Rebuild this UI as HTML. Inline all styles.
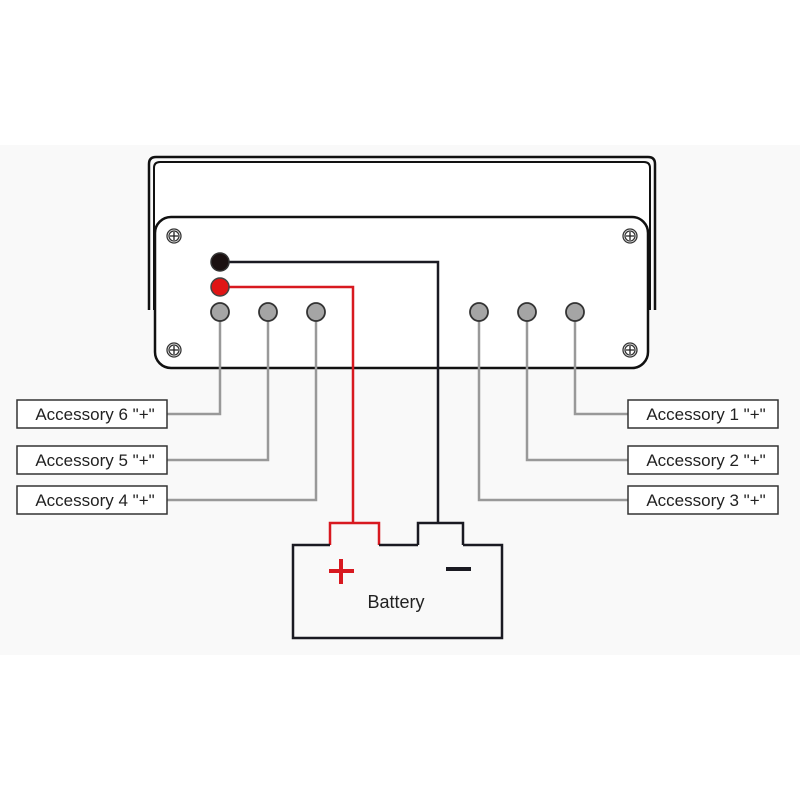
<!DOCTYPE html>
<html><head><style>
body{margin:0;background:#fff;}
svg{display:block;}
text{font-family:"Liberation Sans",Arial,sans-serif;}
</style></head><body>
<svg width="800" height="800" viewBox="0 0 800 800">
<rect x="0" y="145" width="800" height="510" fill="#f9f9f9"/>
<path d="M149,310 V164 Q149,157 156,157 H648 Q655,157 655,164 V310" fill="none" stroke="#111" stroke-width="2.5"/>
<path d="M154,310 V168 Q154,162 160,162 H644 Q650,162 650,168 V310" fill="#fff" stroke="#111" stroke-width="2"/>
<rect x="155" y="217" width="493" height="151" rx="16" fill="#fff" stroke="#111" stroke-width="2.5"/>
<g fill="#fff" stroke="#333" stroke-width="1.3">
<circle cx="174" cy="236" r="7"/><circle cx="630" cy="236" r="7"/><circle cx="174" cy="350" r="7"/><circle cx="630" cy="350" r="7"/>
<circle cx="174" cy="236" r="5"/><circle cx="630" cy="236" r="5"/><circle cx="174" cy="350" r="5"/><circle cx="630" cy="350" r="5"/>
</g>
<g stroke="#222" stroke-width="1.3">
<path d="M170,236h8M174,232v8M626,236h8M630,232v8M170,350h8M174,346v8M626,350h8M630,346v8"/>
</g>
<g fill="none" stroke="#999" stroke-width="2.5">
<path d="M220,312 V414 H167"/><path d="M268,312 V460 H167"/><path d="M316,312 V500 H167"/>
<path d="M575,312 V414 H628"/><path d="M527,312 V460 H628"/><path d="M479,312 V500 H628"/>
</g>
<path d="M220,262 H438 V523 M418,545 V523 H463 V545" fill="none" stroke="#1a1a22" stroke-width="2.5"/>
<path d="M220,287 H353 V523 M330,545 V523 H379 V545" fill="none" stroke="#d81920" stroke-width="2.5"/>
<circle cx="220" cy="262" r="9" fill="#1a1010" stroke="#333" stroke-width="1.5"/>
<circle cx="220" cy="287" r="9" fill="#e01515" stroke="#444" stroke-width="1.5"/>
<g fill="#a5a5a5" stroke="#333" stroke-width="1.8">
<circle cx="220" cy="312" r="9"/><circle cx="268" cy="312" r="9"/><circle cx="316" cy="312" r="9"/>
<circle cx="479" cy="312" r="9"/><circle cx="527" cy="312" r="9"/><circle cx="575" cy="312" r="9"/>
</g>
<g fill="#fff" stroke="#333" stroke-width="1.5">
<rect x="17" y="400" width="150" height="28"/><rect x="17" y="446" width="150" height="28"/><rect x="17" y="486" width="150" height="28"/>
<rect x="628" y="400" width="150" height="28"/><rect x="628" y="446" width="150" height="28"/><rect x="628" y="486" width="150" height="28"/>
</g>
<g font-size="17" fill="#222" text-anchor="middle">
<text x="95" y="420">Accessory 6 "+"</text><text x="95" y="466">Accessory 5 "+"</text><text x="95" y="506">Accessory 4 "+"</text>
<text x="706" y="420">Accessory 1 "+"</text><text x="706" y="466">Accessory 2 "+"</text><text x="706" y="506">Accessory 3 "+"</text>
</g>
<path d="M330,545 H293 V638 H502 V545 H463 M418,545 H379" fill="none" stroke="#1a1a22" stroke-width="2.5"/>
<path d="M329,571 H354 M341,559 V584" stroke="#d81920" stroke-width="4"/>
<path d="M446,569 H471" stroke="#1a1a22" stroke-width="4"/>
<text x="396" y="608" font-size="18" fill="#222" text-anchor="middle">Battery</text>
</svg>
</body></html>
